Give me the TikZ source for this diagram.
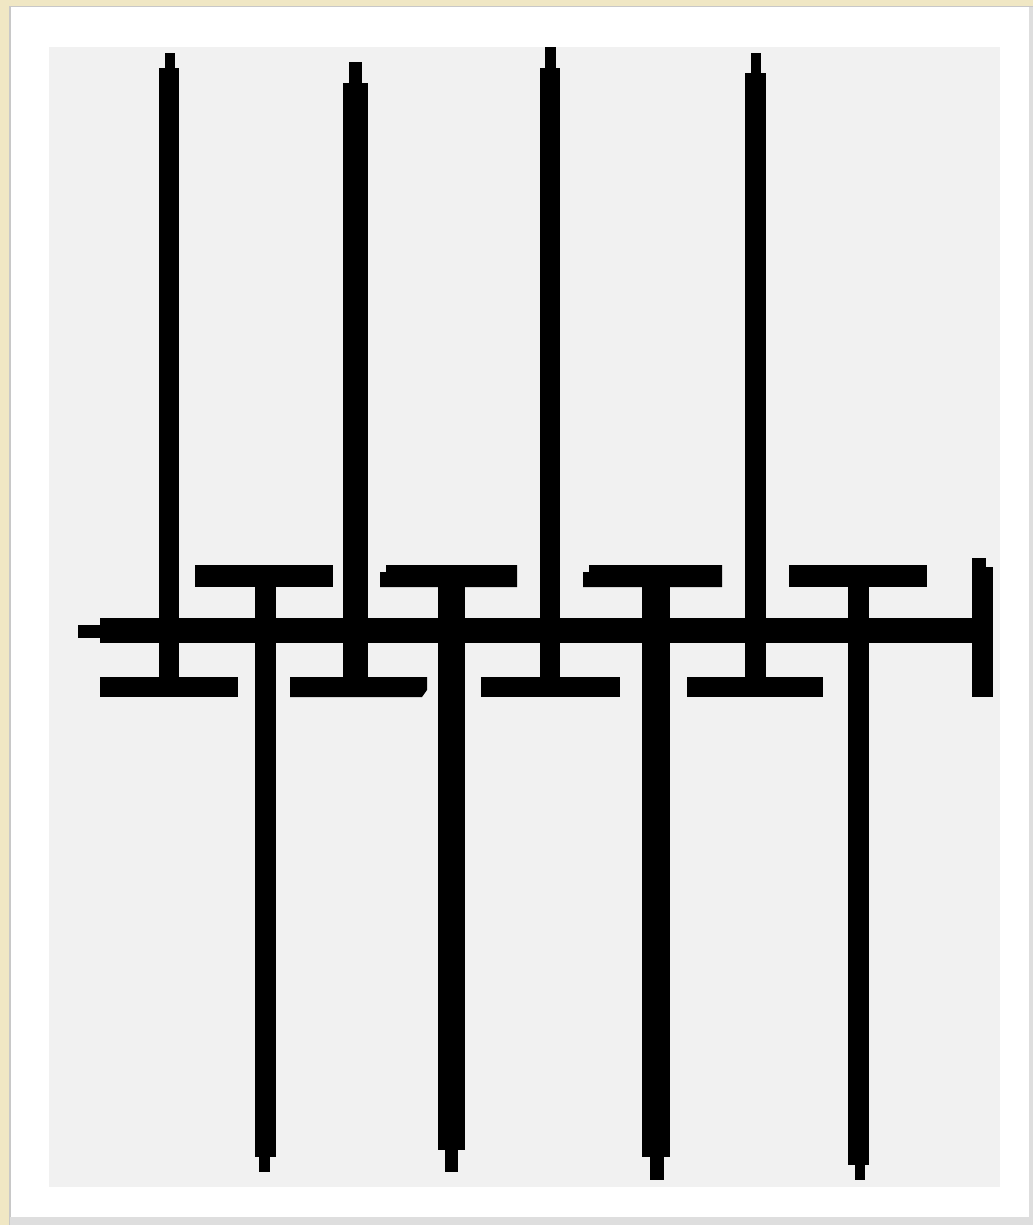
\documentclass[tikz,border=0pt]{standalone}
\usepackage{tikz}
\definecolor{frameC}{RGB}{240,231,196}
\definecolor{paperC}{RGB}{255,255,255}
\definecolor{fieldC}{RGB}{241,241,241}
\definecolor{edgeC}{RGB}{222,222,222}
\definecolor{shadeC}{RGB}{200,200,200}
\tikzset{ink/.style={fill=black,draw=none}}
\begin{document}
\begin{tikzpicture}[x=0.5pt,y=-0.5pt]
\useasboundingbox (0,0) rectangle (1033,1225);
% frame
\fill[paperC] (0,0) rectangle (1033,1225);
\fill[frameC] (0,0) rectangle (1033,6);
\fill[frameC] (0,0) rectangle (9,1225);
\fill[shadeC] (9,6) rectangle (1033,7.5);
\fill[shadeC] (9,6) rectangle (10.5,1225);
\fill[edgeC] (10,1217) rectangle (1033,1225);
\fill[edgeC] (1029,7) rectangle (1033,1225);
\fill[fieldC] (49,47) rectangle (1000,1187);
% main bar
\fill[ink] (100,618) rectangle (975,643);
\fill[ink] (78,625) rectangle (101,638);
\fill[ink] (972,567) rectangle (993,697);
\fill[ink] (972,558) rectangle (986,568);
% upper stems with bottom bars
\fill[ink] (165,53) rectangle (175,70);
\fill[ink] (159,68) rectangle (179,680);
\fill[ink] (100,677) rectangle (238,697);
\fill[ink] (349,62) rectangle (362,85);
\fill[ink] (343,83) rectangle (368,680);
\fill[ink] (290,677) -- (427,677) -- (427,690) -- (422,697) -- (290,697) -- cycle;
\fill[ink] (545,47) rectangle (556,70);
\fill[ink] (540,68) rectangle (560,680);
\fill[ink] (481,677) rectangle (620,697);
\fill[ink] (751,53) rectangle (761,75);
\fill[ink] (745,73) rectangle (766,680);
\fill[ink] (687,677) rectangle (823,697);
% lower stems with top bars
\fill[ink] (195,565) rectangle (333,587);
\fill[ink] (255,585) rectangle (276,1157);
\fill[ink] (259,1155) rectangle (270,1172);
\fill[ink] (386,565) -- (517,565) -- (517,587) -- (380,587) -- (380,572) -- (386,572) -- cycle;
\fill[ink] (438,585) rectangle (465,1150);
\fill[ink] (445,1148) rectangle (458,1172);
\fill[ink] (589,565) -- (722,565) -- (722,587) -- (583,587) -- (583,572) -- (589,572) -- cycle;
\fill[ink] (642,585) rectangle (670,1157);
\fill[ink] (650,1155) rectangle (664,1180);
\fill[ink] (789,565) rectangle (927,587);
\fill[ink] (848,585) rectangle (869,1165);
\fill[ink] (855,1163) rectangle (865,1180);
\end{tikzpicture}
\end{document}
